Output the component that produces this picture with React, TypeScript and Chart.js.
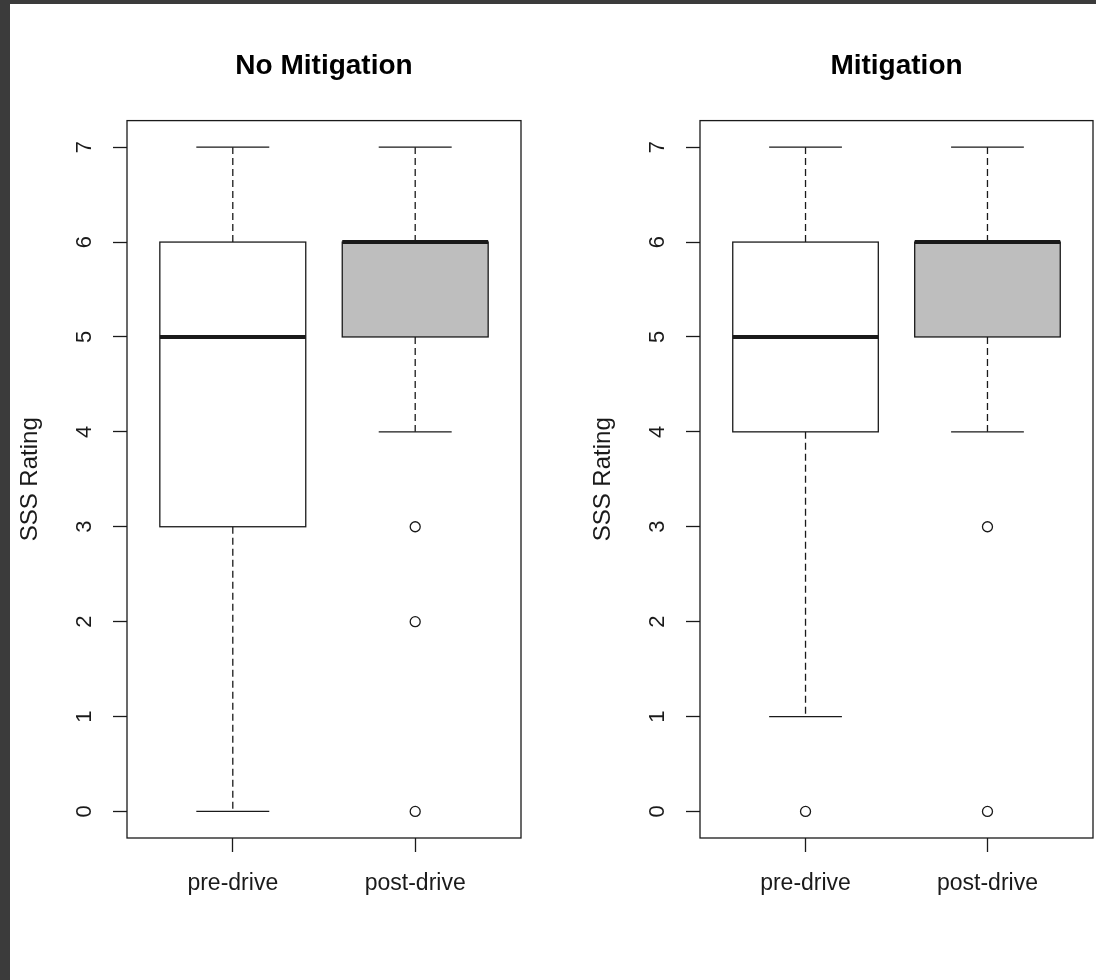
import React, { useEffect, useRef } from "react";
import { Chart, registerables } from "chart.js";

Chart.register(...registerables);

// ---- data ----
const categories = ["pre-drive", "post-drive"];
const panelTitles = ["No Mitigation", "Mitigation"];
const yTicks = [0, 1, 2, 3, 4, 5, 6, 7];
const yAxisTitle = "SSS Rating";

const noMitLower = [0, 4];
const noMitQ1 = [3, 5];
const noMitMedian = [5, 6];
const noMitQ3 = [6, 6];
const noMitUpper = [7, 7];
const noMitOutliers = [[], [3, 2, 0]];

const mitLower = [1, 4];
const mitQ1 = [4, 5];
const mitMedian = [5, 6];
const mitQ3 = [6, 6];
const mitUpper = [7, 7];
const mitOutliers = [[0], [3, 0]];

const boxFills = ["#FFFFFF", "#BEBEBE"];

const FONT = "'Liberation Sans', Arial, Helvetica, sans-serif";
const INK = "#1a1a1a";

type Stats = {
  lower: number[];
  q1: number[];
  median: number[];
  q3: number[];
  upper: number[];
  outliers: number[][];
};

function makeBoxPlugin(s: Stats) {
  return {
    id: "rbox",
    beforeDatasetsDraw(chart: any) {
      const { ctx, scales } = chart;
      const x = scales.x;
      const y = scales.y;
      ctx.save();
      ctx.strokeStyle = INK;
      ctx.lineCap = "butt";
      for (let i = 0; i < categories.length; i++) {
        const cx = x.getPixelForValue(i + 1);
        const half = x.getPixelForValue(i + 1 + 0.4) - cx;
        const capHalf = half / 2;
        const pUp = y.getPixelForValue(s.upper[i]);
        const pLo = y.getPixelForValue(s.lower[i]);
        const pQ1 = y.getPixelForValue(s.q1[i]);
        const pQ3 = y.getPixelForValue(s.q3[i]);
        const pMed = y.getPixelForValue(s.median[i]);
        // whiskers
        ctx.lineWidth = 1.3;
        ctx.setLineDash([7, 4]);
        ctx.beginPath();
        ctx.moveTo(cx, pQ3);
        ctx.lineTo(cx, pUp);
        ctx.moveTo(cx, pQ1);
        ctx.lineTo(cx, pLo);
        ctx.stroke();
        ctx.setLineDash([]);
        // caps
        ctx.beginPath();
        ctx.moveTo(cx - capHalf, pUp);
        ctx.lineTo(cx + capHalf, pUp);
        ctx.moveTo(cx - capHalf, pLo);
        ctx.lineTo(cx + capHalf, pLo);
        ctx.stroke();
        // box
        ctx.fillStyle = boxFills[i];
        ctx.fillRect(cx - half, pQ3, 2 * half, pQ1 - pQ3);
        ctx.strokeRect(cx - half, pQ3, 2 * half, pQ1 - pQ3);
        // median
        ctx.lineWidth = 4;
        ctx.beginPath();
        ctx.moveTo(cx - half, pMed);
        ctx.lineTo(cx + half, pMed);
        ctx.stroke();
      }
      ctx.restore();
    },
    afterDraw(chart: any) {
      const { ctx, chartArea } = chart;
      ctx.save();
      ctx.strokeStyle = INK;
      ctx.lineWidth = 1.3;
      ctx.strokeRect(
        chartArea.left,
        chartArea.top,
        chartArea.right - chartArea.left,
        chartArea.bottom - chartArea.top
      );
      ctx.restore();
    },
  };
}

function Panel(props: {
  title: string;
  stats: Stats;
  left: number;
  width: number;
  rightPad: number;
}) {
  const ref = useRef<HTMLCanvasElement | null>(null);
  useEffect(() => {
    const canvas = ref.current;
    if (!canvas) return;
    const s = props.stats;
    const points: { x: number; y: number }[] = [];
    s.outliers.forEach((arr, i) => arr.forEach((v) => points.push({ x: i + 1, y: v })));
    const tickGrid = {
      display: true,
      drawOnChartArea: false,
      drawTicks: true,
      tickLength: 14,
      tickColor: INK,
      tickWidth: 1.3,
    };
    const chart = new Chart(canvas, {
      type: "scatter",
      data: {
        datasets: [
          {
            data: points,
            pointStyle: "circle",
            pointRadius: 5,
            pointBorderWidth: 1.3,
            pointBorderColor: INK,
            pointBackgroundColor: "rgba(0,0,0,0)",
            borderColor: INK,
            backgroundColor: "rgba(0,0,0,0)",
          },
        ],
      },
      options: {
        responsive: false,
        animation: false,
        devicePixelRatio: 1,
        layout: { padding: { left: 0, top: 0, right: props.rightPad, bottom: 0 } },
        plugins: {
          legend: { display: false },
          tooltip: { enabled: false },
          title: {
            display: true,
            text: props.title,
            fullSize: false,
            color: "#000",
            font: { family: FONT, size: 28, weight: "bold" },
            padding: { top: 45, bottom: 38 },
          },
        },
        scales: {
          x: {
            type: "linear",
            min: 0.42,
            max: 2.58,
            afterBuildTicks: (sc: any) => {
              sc.ticks = categories.map((_, i) => ({ value: i + 1 }));
            },
            afterFit: (sc: any) => {
              sc.height = 142;
              sc.paddingLeft = 0;
              sc.paddingRight = 0;
            },
            ticks: {
              autoSkip: false,
              minRotation: 0,
              maxRotation: 0,
              padding: 18,
              color: INK,
              font: { family: FONT, size: 23 },
              callback: (v: any) => categories[Number(v) - 1] ?? "",
            },
            grid: tickGrid,
            border: { display: false },
          },
          y: {
            type: "linear",
            min: -0.28,
            max: 7.28,
            afterBuildTicks: (sc: any) => {
              sc.ticks = yTicks.map((v) => ({ value: v }));
            },
            afterFit: (sc: any) => {
              sc.width = 117;
              sc.paddingTop = 0;
              sc.paddingBottom = 0;
            },
            ticks: {
              autoSkip: false,
              minRotation: 90,
              maxRotation: 90,
              crossAlign: "center",
              padding: 22,
              color: INK,
              font: { family: FONT, size: 22 },
              callback: (v: any) => String(v),
            },
            grid: tickGrid,
            border: { display: false },
            title: {
              display: true,
              text: yAxisTitle,
              color: INK,
              font: { family: FONT, size: 24 },
              padding: { top: 6, bottom: 0 },
            },
          },
        },
      } as any,
      plugins: [makeBoxPlugin(s)],
    });
    return () => chart.destroy();
  }, []);
  return (
    <canvas
      ref={ref}
      width={props.width}
      height={976}
      style={{
        position: "absolute",
        left: props.left,
        top: 4,
        width: props.width,
        height: 976,
      }}
    />
  );
}

export default function App() {
  const noMit: Stats = {
    lower: noMitLower,
    q1: noMitQ1,
    median: noMitMedian,
    q3: noMitQ3,
    upper: noMitUpper,
    outliers: noMitOutliers,
  };
  const mit: Stats = {
    lower: mitLower,
    q1: mitQ1,
    median: mitMedian,
    q3: mitQ3,
    upper: mitUpper,
    outliers: mitOutliers,
  };
  return (
    <div
      style={{
        position: "absolute",
        left: 0,
        top: 0,
        width: 1096,
        height: 980,
        background: "#3b3b3b",
        overflow: "hidden",
      }}
    >
      <div
        style={{
          position: "absolute",
          left: 10,
          top: 4,
          width: 1086,
          height: 976,
          background: "#ffffff",
        }}
      />
      <Panel title={panelTitles[0]} stats={noMit} left={10} width={548} rightPad={37} />
      <Panel title={panelTitles[1]} stats={mit} left={583} width={530} rightPad={20} />
    </div>
  );
}
